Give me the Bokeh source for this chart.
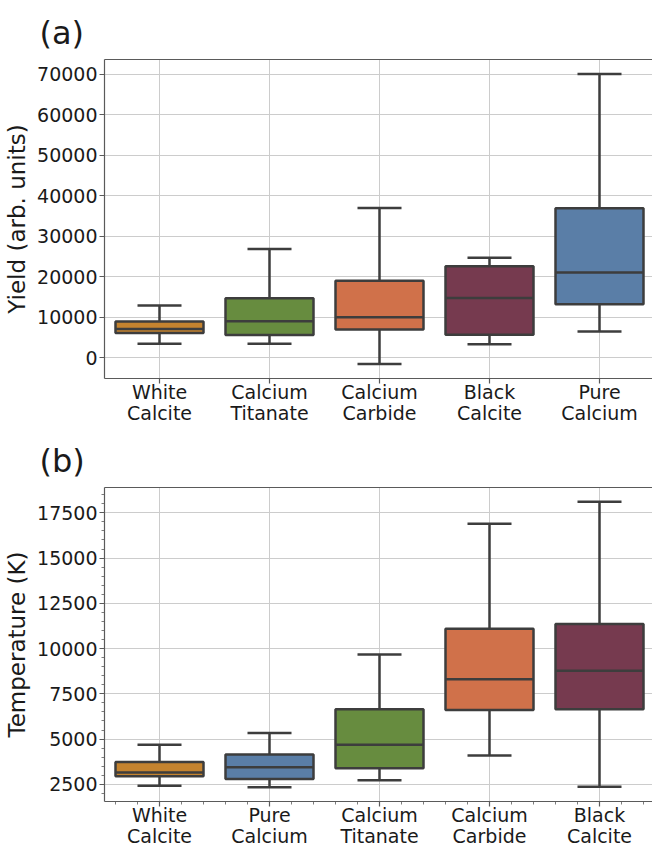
from bokeh.plotting import figure
from bokeh.layouts import column
from bokeh.models import Range1d, FixedTicker, LinearAxis, BasicTickFormatter
from bokeh.embed import file_html
from bokeh.resources import INLINE

# ---------- data (a) ----------
cats_a = ["White Calcite", "Calcium Titanate", "Calcium Carbide", "Black Calcite", "Pure Calcium"]
a_lower = [3500, 3500, -1500, 3350, 6500]
a_q1 = [6150, 5670, 6980, 5740, 13210]
a_med = [7150, 9020, 10010, 14790, 21030]
a_q3 = [8950, 14690, 19050, 22580, 36880]
a_upper = [12900, 26870, 36970, 24720, 70000]
a_yticks = [0, 10000, 20000, 30000, 40000, 50000, 60000, 70000]

# ---------- data (b) ----------
cats_b = ["White Calcite", "Pure Calcium", "Calcium Titanate", "Calcium Carbide", "Black Calcite"]
b_lower = [2425, 2340, 2730, 4090, 2370]
b_q1 = [2950, 2800, 3390, 6610, 6650]
b_med = [3150, 3440, 4690, 8310, 8770]
b_q3 = [3730, 4150, 6650, 11090, 11360]
b_upper = [4690, 5330, 9670, 16900, 18110]
b_yticks = [2500, 5000, 7500, 10000, 12500, 15000, 17500]

colors = {
    "White Calcite": "#C4832F",
    "Calcium Titanate": "#678C3F",
    "Calcium Carbide": "#D0714A",
    "Black Calcite": "#763A4F",
    "Pure Calcium": "#5A7EA7",
}

FONT = "DejaVu Sans"
EDGE = "#3d3d3d"
SPINE = "#5a5a5a"
GRID = "#cccccc"
TXT = "#1a1a1a"

W = 652
LEFT = 104
CAT_PX = 110  # pixels per category slot


def panel(tag, ylabel, cats, lower, q1, med, q3, upper, yticks, minor, height, border_top, border_bottom):
    n = len(cats)
    xs = list(range(n))
    lo, hi = min(lower), max(upper)
    pad = 0.05 * (hi - lo)
    p = figure(width=W, height=height, output_backend="svg", toolbar_location=None,
               x_range=Range1d(-0.5, -0.5 + (W - LEFT) / CAT_PX), y_range=Range1d(lo - pad, hi + pad),
               min_border_left=LEFT, min_border_right=0, min_border_top=border_top,
               min_border_bottom=border_bottom)
    p.outline_line_color = None
    p.background_fill_color = "white"
    p.title.text = tag
    p.title.text_font = FONT
    p.title.text_font_size = "32px"
    p.title.text_font_style = "normal"
    p.title.text_color = TXT
    p.title.align = "left"
    p.title.offset = -65
    p.title.standoff = 15

    # boxes
    fill = [colors[c] for c in cats]
    p.segment(x0=xs, y0=q3, x1=xs, y1=upper, line_color=EDGE, line_width=2.5)
    p.segment(x0=xs, y0=q1, x1=xs, y1=lower, line_color=EDGE, line_width=2.5)
    p.segment(x0=[x - 0.2 for x in xs], y0=upper, x1=[x + 0.2 for x in xs], y1=upper,
              line_color=EDGE, line_width=2.5)
    p.segment(x0=[x - 0.2 for x in xs], y0=lower, x1=[x + 0.2 for x in xs], y1=lower,
              line_color=EDGE, line_width=2.5)
    p.vbar(x=xs, width=0.8, bottom=q1, top=q3, fill_color=fill, line_color=EDGE, line_width=2.5)
    p.segment(x0=[x - 0.4 for x in xs], y0=med, x1=[x + 0.4 for x in xs], y1=med,
              line_color=EDGE, line_width=2.5)

    xax = p.below[0]
    yax = p.left[0]
    # x axis
    xminor = [x + d for x in xs for d in (-0.4, -0.2, 0.2, 0.4)] if minor else []
    xax.ticker = FixedTicker(ticks=xs, minor_ticks=xminor)
    xax.major_label_overrides = {x: c.replace(" ", "\n") for x, c in zip(xs, cats)}
    # y axis
    if minor:
        step = (yticks[1] - yticks[0]) / 5
        k0 = int((lo - pad) // step) + 1
        k1 = int((hi + pad) // step)
        yminor = [k * step for k in range(k0, k1 + 1)]
    else:
        yminor = []
    yax.ticker = FixedTicker(ticks=yticks, minor_ticks=yminor)
    yax.formatter = BasicTickFormatter(use_scientific=False)
    yax.axis_label = ylabel

    for ax in (xax, yax):
        ax.axis_line_color = SPINE
        ax.axis_line_width = 1.2
        ax.major_tick_line_color = SPINE
        ax.major_tick_line_width = 1.2
        ax.major_tick_out = 5
        ax.major_tick_in = 0
        ax.minor_tick_line_color = SPINE if minor else None
        ax.minor_tick_line_width = 0.8
        ax.minor_tick_out = 3
        ax.minor_tick_in = 0
        ax.major_label_text_font = FONT
        ax.major_label_text_font_size = "19px"
        ax.major_label_text_color = TXT
        ax.major_label_standoff = 2
        ax.axis_label_text_font = FONT
        ax.axis_label_text_font_size = "23px"
        ax.axis_label_text_font_style = "normal"
        ax.axis_label_text_color = TXT
        ax.axis_label_standoff = 4
    xax.major_label_text_line_height = 0.98
    xax.major_label_standoff = -3

    p.xgrid.ticker = FixedTicker(ticks=xs)
    p.ygrid.ticker = FixedTicker(ticks=yticks)
    p.grid.grid_line_color = GRID
    p.grid.grid_line_width = 1

    # top spine
    top = LinearAxis(ticker=FixedTicker(ticks=[]), major_label_text_font_size="0px",
                     axis_line_color=SPINE, axis_line_width=1.2,
                     major_tick_line_color=None, minor_tick_line_color=None,
                     major_tick_out=0, major_label_standoff=0)
    p.add_layout(top, "above")
    return p


pa = panel("(a)", "Yield (arb. units)", cats_a, a_lower, a_q1, a_med, a_q3, a_upper,
           a_yticks, False, 430, 59, 52)
pb = panel("(b)", "Temperature (K)", cats_b, b_lower, b_q1, b_med, b_q3, b_upper,
           b_yticks, True, 420, 57, 44)

layout = column(pa, pb, spacing=0)
open("out.html", "w").write(file_html(layout, INLINE))
